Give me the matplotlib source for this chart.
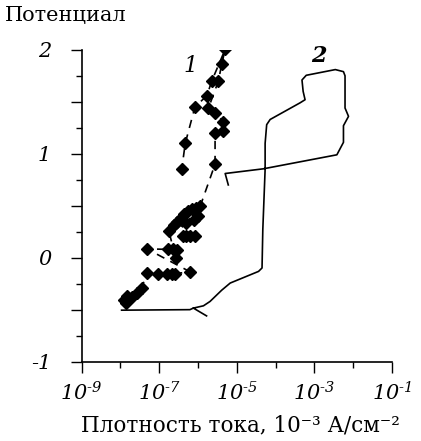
import numpy as np
import matplotlib
matplotlib.use("Agg")
import matplotlib.pyplot as plt
from matplotlib.ticker import FixedLocator, NullFormatter, FixedFormatter

plt.rcParams["font.family"] = ["DejaVu Serif"]
plt.rcParams["axes.unicode_minus"] = False
plt.rcParams["mathtext.fontset"] = "custom"
plt.rcParams["mathtext.rm"] = "DejaVu Serif:italic"
plt.rcParams["mathtext.it"] = "DejaVu Serif:italic"

# curve 1: potentiostatic steps, current density (x) vs potential (y)
cur1 = [1.20e-8, 1.41e-8, 1.66e-8, 1.45e-8, 2.00e-8, 2.63e-8, 3.55e-8,
        4.79e-8, 9.55e-8, 1.58e-7, 2.09e-7, 2.51e-7, 6.17e-7,
        4.79e-8, 1.66e-7, 2.24e-7, 2.82e-7, 2.63e-7,
        1.78e-7, 2.40e-7, 3.98e-7, 5.01e-7, 6.31e-7, 8.51e-7,
        2.82e-7, 3.55e-7, 4.47e-7, 5.62e-7, 7.08e-7, 8.91e-7, 5.01e-7, 7.94e-7,
        1.00e-6, 1.15e-6,
        2.75e-6, 2.75e-6, 4.47e-6, 4.47e-6, 2.75e-6, 1.86e-6, 3.35e-6,
        4.07e-6, 5.01e-6,
        2.26e-6, 1.70e-6, 8.32e-7, 4.68e-7, 3.80e-7]
pot1 = [-0.41, -0.44, -0.40, -0.37, -0.38, -0.34, -0.29,
        -0.145, -0.155, -0.155, -0.155, -0.155, -0.135,
        0.085, 0.08, 0.08, 0.07, -0.005,
        0.255, 0.31, 0.205, 0.205, 0.205, 0.205,
        0.34, 0.38, 0.42, 0.45, 0.47, 0.48, 0.33, 0.36,
        0.40, 0.50,
        0.90, 1.20, 1.22, 1.31, 1.395, 1.44, 1.70,
        1.86, 2.005,
        1.70, 1.56, 1.45, 1.10, 0.85]

# curve 2: continuous sweep; NaN splits off the short cathodic tail
cur2 = [1.07e-8, 6.17e-7, 7.59e-7, 1.38e-6, 2.04e-6, 4.07e-6, 6.76e-6,
        3.63e-5, 4.47e-5, 4.68e-5, 5.37e-5, 5.37e-5, 5.89e-5, 7.24e-5,
        4.27e-4, 5.75e-4, 5.13e-4, 4.79e-4, 6.17e-4, 3.47e-3, 5.62e-3,
        6.17e-3, 6.17e-3, 7.59e-3, 5.62e-3, 5.62e-3, 5.62e-3, 3.80e-3,
        4.79e-5, 5.01e-6, 6.03e-6,
        np.nan,
        7.59e-7, 1.66e-6]
pot2 = [-0.505, -0.50, -0.485, -0.463, -0.421, -0.313, -0.244,
        -0.132, -0.099, 0.27, 0.85, 1.10, 1.28, 1.33,
        1.49, 1.52, 1.60, 1.71, 1.755, 1.81, 1.79,
        1.75, 1.44, 1.36, 1.27, 1.23, 1.11, 0.99,
        0.855, 0.81, 0.70,
        np.nan,
        -0.485, -0.56]

x_major = [1e-9, 1e-7, 1e-5, 1e-3, 1e-1]
x_minor = [1e-8, 1e-6, 1e-4, 1e-2]
x_labels = [r"$10^{\text{-}9}$", r"$10^{\text{-}7}$", r"$10^{\text{-}5}$",
            r"$10^{\text{-}3}$", r"$10^{\text{-}1}$"]
y_major = np.arange(-1, 2.01, 0.5)
y_minor = np.arange(-0.75, 2.0, 0.5)
y_labels = ["-1", "", "0", "", "1", "", "2"]

fig = plt.figure(figsize=(4.21, 4.41), dpi=100)
ax = fig.add_axes([0.194, 0.180, 0.737, 0.707])

ax.plot(cur1, pot1, color="black", lw=1.2, ls=(0, (5, 4)),
        marker="D", ms=6, mec="black", mfc="black")
ax.plot(cur2, pot2, color="black", lw=1.2)

ax.set_xscale("log")
ax.set_xlim(1e-9, 1e-1)
ax.set_ylim(-1, 2)

ax.xaxis.set_major_locator(FixedLocator(x_major))
ax.xaxis.set_major_formatter(FixedFormatter(x_labels))
ax.xaxis.set_minor_locator(FixedLocator(x_minor))
ax.xaxis.set_minor_formatter(NullFormatter())
ax.yaxis.set_major_locator(FixedLocator(y_major))
ax.yaxis.set_major_formatter(FixedFormatter(y_labels))
ax.yaxis.set_minor_locator(FixedLocator(y_minor))
ax.yaxis.set_minor_formatter(NullFormatter())

for s in ("top", "right"):
    ax.spines[s].set_visible(False)
for s in ("left", "bottom"):
    ax.spines[s].set_linewidth(1.2)

ax.tick_params(axis="x", which="major", direction="out", length=8, width=1,
               labelsize=15, pad=6)
ax.tick_params(axis="x", which="minor", direction="out", length=4, width=1)
ax.tick_params(axis="y", which="major", direction="out", length=8, width=1,
               labelsize=15, pad=14)
ax.tick_params(axis="y", which="minor", direction="out", length=4, width=1)
for lab in ax.get_yticklabels():
    lab.set_fontstyle("italic")

ax.text(6.3e-7, 1.84, "1", fontsize=16, style="italic", ha="center", va="center")
ax.text(1.3e-3, 1.94, "2", fontsize=16, style="italic", weight="bold",
        ha="center", va="center")

fig.text(0.012, 0.964, "Потенциал", fontsize=15, ha="left", va="center")
fig.text(0.572, 0.035, "Плотность тока, 10⁻³ А/см⁻²", fontsize=15.5,
         ha="center", va="center")

fig.savefig("out.png", dpi=100)
